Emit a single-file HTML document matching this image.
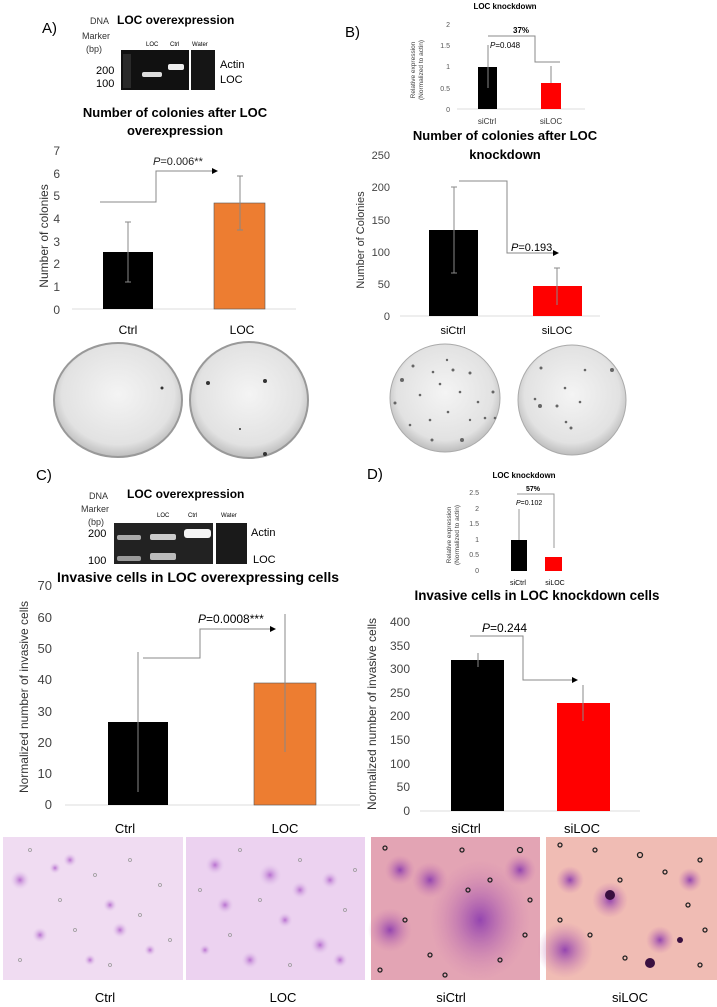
<!DOCTYPE html>
<html><head><meta charset="utf-8"><style>
html,body{margin:0;padding:0;background:#fff}
svg{display:block;font-family:"Liberation Sans",sans-serif}
</style></head><body>
<svg width="717" height="1007" viewBox="0 0 717 1007" xmlns="http://www.w3.org/2000/svg">
<defs>
<radialGradient id="dish" cx="50%" cy="45%" r="55%"><stop offset="0" stop-color="#f4f4f4"/><stop offset="0.8" stop-color="#e2e2e2"/><stop offset="1" stop-color="#bdbdbd"/></radialGradient>
<radialGradient id="purp" cx="50%" cy="50%" r="50%"><stop offset="0" stop-color="#b870d0"/><stop offset="1" stop-color="#e8d2ee" stop-opacity="0"/></radialGradient>
<radialGradient id="dk" cx="50%" cy="50%" r="50%"><stop offset="0" stop-color="#9040b0"/><stop offset="1" stop-color="#d080b0" stop-opacity="0"/></radialGradient>
</defs>

<!-- ===== Panel A ===== -->
<text x="42" y="33" font-size="15">A)</text>
<text x="90" y="24" font-size="9" fill="#333">DNA</text>
<text x="117" y="24" font-size="12" font-weight="bold">LOC overexpression</text>
<text x="82" y="39" font-size="9" fill="#333">Marker</text>
<text x="86" y="52" font-size="9" fill="#333">(bp)</text>
<text x="146" y="46" font-size="6">LOC</text><text x="170" y="46" font-size="6">Ctrl</text><text x="192" y="46" font-size="6">Water</text>
<rect x="121" y="50" width="68" height="40" fill="#111"/>
<rect x="191" y="50" width="24" height="40" fill="#151515"/>
<rect x="142" y="72" width="20" height="5" rx="2" fill="#ddd"/>
<rect x="168" y="64" width="16" height="6" rx="2" fill="#eee"/>
<rect x="123" y="54" width="8" height="34" fill="#2a2a2a"/>
<text x="96" y="74" font-size="11">200</text><text x="96" y="87" font-size="11">100</text>
<text x="220" y="68" font-size="11">Actin</text><text x="220" y="83" font-size="11">LOC</text>

<text x="175" y="117" font-size="13" font-weight="bold" text-anchor="middle">Number of colonies after LOC</text>
<text x="175" y="135" font-size="13" font-weight="bold" text-anchor="middle">overexpression</text>
<g font-size="12" fill="#444" text-anchor="end">
<text x="60" y="155">7</text><text x="60" y="178">6</text><text x="60" y="200">5</text><text x="60" y="223">4</text><text x="60" y="246">3</text><text x="60" y="268">2</text><text x="60" y="291">1</text><text x="60" y="314">0</text></g>
<text transform="translate(48,236) rotate(-90)" font-size="12" fill="#333" text-anchor="middle">Number of colonies</text>
<line x1="72" y1="309" x2="296" y2="309" stroke="#ddd"/>
<rect x="103" y="252" width="50" height="57" fill="#000"/>
<rect x="214" y="203" width="51" height="106" fill="#ed7d31" stroke="#555" stroke-width="0.6"/>
<g stroke="#888" stroke-width="1"><line x1="128" y1="222" x2="128" y2="282"/><line x1="125" y1="222" x2="131" y2="222"/><line x1="125" y1="282" x2="131" y2="282"/>
<line x1="240" y1="176" x2="240" y2="230"/><line x1="237" y1="176" x2="243" y2="176"/><line x1="237" y1="230" x2="243" y2="230"/></g>
<polyline points="100,202 156,202 156,171 214,171" fill="none" stroke="#888"/>
<polygon points="218,171 212,168 212,174" fill="#000"/>
<text x="153" y="165" font-size="11" fill="#222"><tspan font-style="italic">P</tspan>=0.006**</text>
<text x="128" y="334" font-size="12" text-anchor="middle">Ctrl</text>
<text x="242" y="334" font-size="12" text-anchor="middle">LOC</text>
<ellipse cx="118" cy="400" rx="64" ry="57" fill="url(#dish)" stroke="#999" stroke-width="2"/>
<ellipse cx="249" cy="400" rx="59" ry="58" fill="url(#dish)" stroke="#999" stroke-width="2"/>
<g fill="#333"><circle cx="162" cy="388" r="1.5"/><circle cx="208" cy="383" r="2"/><circle cx="265" cy="381" r="2"/><circle cx="240" cy="429" r="1"/><circle cx="265" cy="454" r="2"/></g>

<!-- ===== Panel B ===== -->
<text x="345" y="37" font-size="15">B)</text>
<text x="505" y="9" font-size="8" font-weight="bold" text-anchor="middle">LOC knockdown</text>
<g font-size="7" fill="#555" text-anchor="end"><text x="450" y="27">2</text><text x="450" y="48">1.5</text><text x="450" y="69">1</text><text x="450" y="91">0.5</text><text x="450" y="112">0</text></g>
<text transform="translate(415,70) rotate(-90)" font-size="6.5" fill="#444" text-anchor="middle">Relative expression</text>
<text transform="translate(423,70) rotate(-90)" font-size="6.5" fill="#444" text-anchor="middle">(Normalized to actin)</text>
<line x1="457" y1="109" x2="585" y2="109" stroke="#ddd"/>
<rect x="478" y="67" width="19" height="42" fill="#000"/>
<rect x="541" y="83" width="20" height="26" fill="#f00"/>
<g stroke="#888"><line x1="488" y1="45" x2="488" y2="88"/><line x1="551" y1="66" x2="551" y2="83"/></g>
<polyline points="488,36 535,36 535,62 560,62" fill="none" stroke="#888"/>
<text x="513" y="33" font-size="8" font-weight="bold">37%</text>
<text x="490" y="48" font-size="8"><tspan font-style="italic">P</tspan>=0.048</text>
<text x="487" y="124" font-size="8" fill="#333" text-anchor="middle">siCtrl</text><text x="551" y="124" font-size="8" fill="#333" text-anchor="middle">siLOC</text>
<text x="505" y="140" font-size="13" font-weight="bold" text-anchor="middle">Number of colonies after LOC</text>
<text x="505" y="159" font-size="13" font-weight="bold" text-anchor="middle">knockdown</text>
<g font-size="11" fill="#444" text-anchor="end"><text x="390" y="159">250</text><text x="390" y="191">200</text><text x="390" y="224">150</text><text x="390" y="256">100</text><text x="390" y="288">50</text><text x="390" y="320">0</text></g>
<text transform="translate(364,240) rotate(-90)" font-size="11" fill="#333" text-anchor="middle">Number of Colonies</text>
<line x1="400" y1="316" x2="600" y2="316" stroke="#ddd"/>
<rect x="429" y="230" width="49" height="86" fill="#000"/>
<rect x="533" y="286" width="49" height="30" fill="#f00"/>
<g stroke="#888"><line x1="454" y1="187" x2="454" y2="273"/><line x1="451" y1="187" x2="457" y2="187"/><line x1="451" y1="273" x2="457" y2="273"/>
<line x1="557" y1="268" x2="557" y2="305"/><line x1="554" y1="268" x2="560" y2="268"/></g>
<polyline points="459,181 507,181 507,253 555,253" fill="none" stroke="#888"/>
<polygon points="559,253 553,250 553,256" fill="#000"/>
<text x="511" y="251" font-size="11"><tspan font-style="italic">P</tspan>=0.193</text>
<text x="453" y="334" font-size="11" text-anchor="middle">siCtrl</text><text x="557" y="334" font-size="11" text-anchor="middle">siLOC</text>
<ellipse cx="445" cy="398" rx="55" ry="54" fill="url(#dish)" stroke="#aaa"/>
<ellipse cx="572" cy="400" rx="54" ry="55" fill="url(#dish)" stroke="#aaa"/>
<g fill="#666"><circle cx="395" cy="403" r="1.5"/><circle cx="402" cy="380" r="2"/><circle cx="413" cy="366" r="1.5"/><circle cx="420" cy="395" r="1.3"/><circle cx="433" cy="372" r="1.3"/><circle cx="440" cy="384" r="1.3"/><circle cx="453" cy="370" r="1.5"/><circle cx="460" cy="392" r="1.3"/><circle cx="470" cy="373" r="1.5"/><circle cx="478" cy="402" r="1.3"/><circle cx="493" cy="392" r="1.5"/><circle cx="485" cy="418" r="1.3"/><circle cx="448" cy="412" r="1.3"/><circle cx="430" cy="420" r="1.3"/><circle cx="462" cy="440" r="2"/><circle cx="432" cy="440" r="1.5"/><circle cx="410" cy="425" r="1.3"/><circle cx="470" cy="420" r="1.2"/><circle cx="447" cy="360" r="1.2"/><circle cx="495" cy="418" r="1.3"/>
<circle cx="541" cy="368" r="1.5"/><circle cx="612" cy="370" r="2"/><circle cx="585" cy="370" r="1.3"/><circle cx="540" cy="406" r="2"/><circle cx="557" cy="406" r="1.5"/><circle cx="580" cy="402" r="1.3"/><circle cx="565" cy="388" r="1.3"/><circle cx="571" cy="428" r="1.5"/><circle cx="566" cy="422" r="1.3"/><circle cx="535" cy="399" r="1.3"/></g>

<!-- ===== Panel C ===== -->
<text x="36" y="480" font-size="15">C)</text>
<text x="89" y="499" font-size="9" fill="#333">DNA</text>
<text x="127" y="498" font-size="12" font-weight="bold">LOC overexpression</text>
<text x="81" y="512" font-size="9" fill="#333">Marker</text><text x="88" y="525" font-size="9" fill="#333">(bp)</text>
<text x="157" y="517" font-size="6">LOC</text><text x="188" y="517" font-size="6">Ctrl</text><text x="221" y="517" font-size="6">Water</text>
<rect x="114" y="523" width="99" height="41" fill="#222"/>
<rect x="216" y="523" width="31" height="41" fill="#1a1a1a"/>
<g fill="#aaa"><rect x="117" y="535" width="24" height="5" rx="2"/><rect x="117" y="556" width="24" height="5" rx="2" fill="#999"/><rect x="150" y="534" width="26" height="6" rx="2" fill="#ccc"/><rect x="150" y="553" width="26" height="7" rx="2" fill="#bbb"/><rect x="184" y="529" width="27" height="9" rx="3" fill="#f4f4f4"/></g>
<text x="88" y="537" font-size="11">200</text><text x="88" y="564" font-size="11">100</text>
<text x="251" y="536" font-size="11">Actin</text><text x="253" y="563" font-size="11">LOC</text>
<text x="198" y="582" font-size="14" font-weight="bold" text-anchor="middle" textLength="282" lengthAdjust="spacingAndGlyphs">Invasive cells in LOC overexpressing cells</text>
<g font-size="13" fill="#444" text-anchor="end"><text x="52" y="590">70</text><text x="52" y="622">60</text><text x="52" y="653">50</text><text x="52" y="684">40</text><text x="52" y="716">30</text><text x="52" y="747">20</text><text x="52" y="778">10</text><text x="52" y="809">0</text></g>
<text transform="translate(28,697) rotate(-90)" font-size="12" fill="#333" text-anchor="middle">Normalized number of invasive cells</text>
<line x1="65" y1="805" x2="360" y2="805" stroke="#ddd"/>
<rect x="108" y="722" width="60" height="83" fill="#000"/>
<rect x="254" y="683" width="62" height="122" fill="#ed7d31" stroke="#555" stroke-width="0.6"/>
<g stroke="#888"><line x1="138" y1="652" x2="138" y2="792"/><line x1="285" y1="614" x2="285" y2="752"/></g>
<polyline points="143,658 200,658 200,629 272,629" fill="none" stroke="#888"/>
<polygon points="276,629 270,626 270,632" fill="#000"/>
<text x="198" y="623" font-size="12"><tspan font-style="italic">P</tspan>=0.0008***</text>
<text x="125" y="833" font-size="13" text-anchor="middle">Ctrl</text><text x="285" y="833" font-size="13" text-anchor="middle">LOC</text>

<!-- ===== Panel D ===== -->
<text x="367" y="479" font-size="15">D)</text>
<text x="524" y="478" font-size="8" font-weight="bold" text-anchor="middle">LOC knockdown</text>
<g font-size="7" fill="#555" text-anchor="end"><text x="479" y="495">2.5</text><text x="479" y="511">2</text><text x="479" y="526">1.5</text><text x="479" y="542">1</text><text x="479" y="557">0.5</text><text x="479" y="573">0</text></g>
<text transform="translate(451,535) rotate(-90)" font-size="6.5" fill="#444" text-anchor="middle">Relative expression</text>
<text transform="translate(459,535) rotate(-90)" font-size="6.5" fill="#444" text-anchor="middle">(Normalized to actin)</text>
<rect x="511" y="540" width="16" height="31" fill="#000"/>
<rect x="545" y="557" width="17" height="14" fill="#f00"/>
<line x1="519" y1="509" x2="519" y2="540" stroke="#999"/>
<polyline points="517,494 554,494 554,548" fill="none" stroke="#999"/>
<text x="526" y="491" font-size="7" font-weight="bold">57%</text>
<text x="516" y="505" font-size="7"><tspan font-style="italic">P</tspan>=0.102</text>
<text x="518" y="585" font-size="7" text-anchor="middle">siCtrl</text><text x="555" y="585" font-size="7" text-anchor="middle">siLOC</text>
<text x="537" y="600" font-size="14" font-weight="bold" text-anchor="middle" textLength="245" lengthAdjust="spacingAndGlyphs">Invasive cells in LOC knockdown cells</text>
<g font-size="12" fill="#444" text-anchor="end"><text x="410" y="626">400</text><text x="410" y="650">350</text><text x="410" y="673">300</text><text x="410" y="697">250</text><text x="410" y="720">200</text><text x="410" y="744">150</text><text x="410" y="768">100</text><text x="410" y="791">50</text><text x="410" y="815">0</text></g>
<text transform="translate(376,714) rotate(-90)" font-size="12" fill="#333" text-anchor="middle">Normalized number of invasive cells</text>
<line x1="420" y1="811" x2="640" y2="811" stroke="#ddd"/>
<rect x="451" y="660" width="53" height="151" fill="#000"/>
<rect x="557" y="703" width="53" height="108" fill="#f00"/>
<g stroke="#888"><line x1="478" y1="653" x2="478" y2="667"/><line x1="583" y1="685" x2="583" y2="721"/></g>
<polyline points="470,636 523,636 523,680 574,680" fill="none" stroke="#888"/>
<polygon points="578,680 572,677 572,683" fill="#000"/>
<text x="482" y="632" font-size="12"><tspan font-style="italic">P</tspan>=0.244</text>
<text x="466" y="833" font-size="13" text-anchor="middle">siCtrl</text><text x="582" y="833" font-size="13" text-anchor="middle">siLOC</text>

<!-- ===== micrographs ===== -->
<rect x="3" y="837" width="180" height="143" fill="#f0dcf2"/>
<rect x="186" y="837" width="179" height="143" fill="#ecd2f0"/>
<rect x="371" y="837" width="169" height="143" fill="#e3a4b4"/>
<rect x="546" y="837" width="171" height="143" fill="#f0bcb4"/>
<g fill="url(#purp)">
<circle cx="20" cy="880" r="10"/><circle cx="55" cy="868" r="6"/><circle cx="70" cy="860" r="7"/><circle cx="120" cy="930" r="8"/><circle cx="40" cy="935" r="8"/><circle cx="110" cy="905" r="7"/><circle cx="90" cy="960" r="6"/><circle cx="150" cy="950" r="6"/>
<circle cx="215" cy="865" r="10"/><circle cx="270" cy="875" r="12"/><circle cx="300" cy="890" r="9"/><circle cx="330" cy="880" r="9"/><circle cx="225" cy="905" r="9"/><circle cx="320" cy="945" r="10"/><circle cx="250" cy="960" r="9"/><circle cx="285" cy="920" r="8"/><circle cx="340" cy="960" r="8"/><circle cx="205" cy="950" r="6"/>
</g>
<g fill="url(#dk)" opacity="0.95">
<ellipse cx="480" cy="920" rx="50" ry="60"/><circle cx="390" cy="930" r="22"/><circle cx="430" cy="880" r="18"/><circle cx="520" cy="870" r="16"/><circle cx="400" cy="870" r="15"/>
<circle cx="565" cy="950" r="28"/><circle cx="610" cy="900" r="18"/><circle cx="660" cy="940" r="14"/><circle cx="690" cy="880" r="12"/><circle cx="570" cy="880" r="14"/>
</g>
<g fill="#3a1040"><circle cx="610" cy="895" r="5"/><circle cx="650" cy="963" r="5"/><circle cx="680" cy="940" r="3"/></g>
<g fill="none" stroke="#222" stroke-width="1.3">
<circle cx="385" cy="848" r="2"/><circle cx="405" cy="920" r="2"/><circle cx="430" cy="955" r="2"/><circle cx="462" cy="850" r="2"/><circle cx="468" cy="890" r="2"/><circle cx="490" cy="880" r="2"/><circle cx="500" cy="960" r="2"/><circle cx="520" cy="850" r="2.5"/><circle cx="530" cy="900" r="2"/><circle cx="525" cy="935" r="2"/><circle cx="445" cy="975" r="2"/><circle cx="380" cy="970" r="2"/>
<circle cx="560" cy="845" r="2"/><circle cx="595" cy="850" r="2"/><circle cx="620" cy="880" r="2"/><circle cx="640" cy="855" r="2.5"/><circle cx="665" cy="872" r="2"/><circle cx="700" cy="860" r="2"/><circle cx="688" cy="905" r="2"/><circle cx="705" cy="930" r="2"/><circle cx="560" cy="920" r="2"/><circle cx="590" cy="935" r="2"/><circle cx="625" cy="958" r="2"/><circle cx="700" cy="965" r="2"/>
</g>
<g fill="none" stroke="#999" stroke-width="0.8">
<circle cx="30" cy="850" r="1.5"/><circle cx="60" cy="900" r="1.5"/><circle cx="95" cy="875" r="1.5"/><circle cx="130" cy="860" r="1.5"/><circle cx="160" cy="885" r="1.5"/><circle cx="75" cy="930" r="1.5"/><circle cx="140" cy="915" r="1.5"/><circle cx="170" cy="940" r="1.5"/><circle cx="20" cy="960" r="1.5"/><circle cx="110" cy="965" r="1.5"/>
<circle cx="200" cy="890" r="1.5"/><circle cx="240" cy="850" r="1.5"/><circle cx="260" cy="900" r="1.5"/><circle cx="300" cy="860" r="1.5"/><circle cx="345" cy="910" r="1.5"/><circle cx="230" cy="935" r="1.5"/><circle cx="290" cy="965" r="1.5"/><circle cx="355" cy="870" r="1.5"/></g>
<g font-size="13" text-anchor="middle"><text x="105" y="1002">Ctrl</text><text x="283" y="1002">LOC</text><text x="451" y="1002">siCtrl</text><text x="630" y="1002">siLOC</text></g>
</svg>
</body></html>
